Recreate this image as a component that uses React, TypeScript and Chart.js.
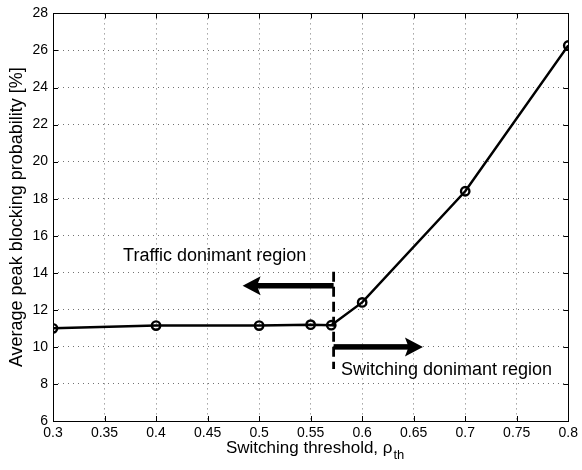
import React, { useEffect, useRef } from 'react';
import { Chart, registerables } from 'chart.js';

Chart.register(...registerables);

// ---- data ----
const thresholds = [0.3, 0.4, 0.5, 0.55, 0.57, 0.6, 0.7, 0.8];
const blockingProb = [11.0, 11.15, 11.15, 11.2, 11.17, 12.4, 18.4, 26.27];

const xTicks = [0.3, 0.35, 0.4, 0.45, 0.5, 0.55, 0.6, 0.65, 0.7, 0.75, 0.8];
const xTickLabels = ['0.3', '0.35', '0.4', '0.45', '0.5', '0.55', '0.6', '0.65', '0.7', '0.75', '0.8'];
const yTicks = [6, 8, 10, 12, 14, 16, 18, 20, 22, 24, 26, 28];
const yTickLabels = ['6', '8', '10', '12', '14', '16', '18', '20', '22', '24', '26', '28'];

// ---- annotations (data units) ----
const boundaryX = 0.5723;
const boundaryYRange = [8.8, 14.05];
const trafficArrow = { from: 0.5723, to: 0.484, y: 13.3 };
const switchingArrow = { from: 0.5723, to: 0.659, y: 10.0 };
const trafficLabel = { text: 'Traffic donimant region', x: 0.368, y: 14.65 };
const switchingLabel = { text: 'Switching donimant region', x: 0.5794, y: 8.5 };

const xTitle = 'Switching threshold, ρ';
const xTitleSub = 'th';
const yTitle = 'Average peak blocking probability [%]';

const FONT = '"Liberation Sans", Arial, Helvetica, sans-serif';

function drawArrow(ctx: CanvasRenderingContext2D, x0: number, x1: number, y: number) {
  const dir = Math.sign(x1 - x0);
  const headL = 18;
  const headH = 19;
  const shaftW = 5.5;
  ctx.fillStyle = '#000';
  ctx.fillRect(Math.min(x0, x1 - dir * headL * 0.7), y - shaftW / 2, Math.abs(x1 - dir * headL * 0.7 - x0), shaftW);
  ctx.beginPath();
  ctx.moveTo(x1, y);
  ctx.lineTo(x1 - dir * headL, y - headH / 2);
  ctx.lineTo(x1 - dir * headL * 0.8, y);
  ctx.lineTo(x1 - dir * headL, y + headH / 2);
  ctx.closePath();
  ctx.fill();
}

const overlayPlugin = {
  id: 'overlay',
  afterDraw(chart: any) {
    const { ctx, chartArea: a, scales } = chart;
    const xs = scales.x;
    const ys = scales.y;
    ctx.save();
    // box
    ctx.strokeStyle = '#000';
    ctx.lineWidth = 1;
    ctx.setLineDash([]);
    ctx.strokeRect(Math.round(a.left) + 0.5, Math.round(a.top) + 0.5, Math.round(a.right - a.left), Math.round(a.bottom - a.top));
    // inner ticks
    const tl = 5;
    ctx.beginPath();
    xTicks.forEach((v) => {
      const px = Math.round(xs.getPixelForValue(v)) + 0.5;
      ctx.moveTo(px, a.bottom);
      ctx.lineTo(px, a.bottom - tl);
      ctx.moveTo(px, a.top);
      ctx.lineTo(px, a.top + tl);
    });
    yTicks.forEach((v) => {
      const py = Math.round(ys.getPixelForValue(v)) + 0.5;
      ctx.moveTo(a.left, py);
      ctx.lineTo(a.left + tl, py);
      ctx.moveTo(a.right, py);
      ctx.lineTo(a.right - tl, py);
    });
    ctx.stroke();

    // dashed boundary
    const bx = xs.getPixelForValue(boundaryX);
    ctx.beginPath();
    ctx.setLineDash([10, 5]);
    ctx.lineWidth = 2.8;
    ctx.moveTo(bx, ys.getPixelForValue(boundaryYRange[1]));
    ctx.lineTo(bx, ys.getPixelForValue(boundaryYRange[0]));
    ctx.stroke();
    ctx.setLineDash([]);

    // arrows
    drawArrow(ctx, xs.getPixelForValue(trafficArrow.from), xs.getPixelForValue(trafficArrow.to), ys.getPixelForValue(trafficArrow.y));
    drawArrow(ctx, xs.getPixelForValue(switchingArrow.from), xs.getPixelForValue(switchingArrow.to), ys.getPixelForValue(switchingArrow.y));

    // labels
    ctx.fillStyle = '#000';
    ctx.font = `18px ${FONT}`;
    ctx.textAlign = 'left';
    ctx.textBaseline = 'alphabetic';
    ctx.fillText(trafficLabel.text, xs.getPixelForValue(trafficLabel.x), ys.getPixelForValue(trafficLabel.y));
    ctx.fillText(switchingLabel.text, xs.getPixelForValue(switchingLabel.x), ys.getPixelForValue(switchingLabel.y));

    // x title with subscript
    const mainFont = `17px ${FONT}`;
    const subFont = `13px ${FONT}`;
    ctx.font = mainFont;
    const wMain = ctx.measureText(xTitle).width;
    ctx.font = subFont;
    const wSub = ctx.measureText(xTitleSub).width;
    const cx = (a.left + a.right) / 2 + 4;
    const startX = cx - (wMain + wSub) / 2;
    const baseY = 453;
    ctx.font = mainFont;
    ctx.fillText(xTitle, startX, baseY);
    ctx.font = subFont;
    ctx.fillText(xTitleSub, startX + wMain + 1, baseY + 6);

    // y title
    ctx.save();
    ctx.translate(22, (a.top + a.bottom) / 2);
    ctx.rotate(-Math.PI / 2);
    ctx.font = `18px ${FONT}`;
    ctx.textAlign = 'center';
    ctx.fillText(yTitle, 0, 0);
    ctx.restore();

    ctx.restore();
  },
};

export default function App() {
  const ref = useRef<HTMLCanvasElement | null>(null);
  useEffect(() => {
    if (!ref.current) return;
    const chart = new Chart(ref.current, {
      type: 'line',
      data: {
        datasets: [
          {
            data: thresholds.map((x, i) => ({ x, y: blockingProb[i] })),
            borderColor: '#000',
            borderWidth: 2.5,
            pointRadius: 4.2,
            pointBorderWidth: 2.4,
            pointBorderColor: '#000',
            pointBackgroundColor: 'rgba(0,0,0,0)',
            tension: 0,
            fill: false,
          },
        ],
      },
      options: {
        animation: false,
        responsive: false,
        events: [],
        layout: { padding: { top: 11, right: 10, left: 0, bottom: 0 } },
        plugins: { legend: { display: false }, tooltip: { enabled: false }, title: { display: false } },
        scales: {
          x: {
            type: 'linear',
            min: 0.3,
            max: 0.8,
            afterBuildTicks: (s: any) => {
              s.ticks = xTicks.map((v) => ({ value: v }));
            },
            afterFit: (s: any) => {
              s.height = 49;
            },
            ticks: {
              autoSkip: false,
              maxRotation: 0,
              padding: 4,
              color: '#000',
              font: { family: FONT, size: 14 },
              callback: (_v: any, i: number) => xTickLabels[i],
            },
            grid: { color: 'rgba(0,0,0,0.55)', lineWidth: 1, drawTicks: false },
            border: { display: false, dash: [1, 4] },
          },
          y: {
            type: 'linear',
            min: 6,
            max: 28,
            afterBuildTicks: (s: any) => {
              s.ticks = yTicks.map((v) => ({ value: v }));
            },
            afterFit: (s: any) => {
              s.width = 53;
            },
            ticks: {
              autoSkip: false,
              padding: 5,
              color: '#000',
              font: { family: FONT, size: 14 },
              callback: (_v: any, i: number) => yTickLabels[i],
            },
            grid: { color: 'rgba(0,0,0,0.55)', lineWidth: 1, drawTicks: false },
            border: { display: false, dash: [1, 4] },
          },
        },
      },
      plugins: [overlayPlugin],
    } as any);
    return () => chart.destroy();
  }, []);
  return (
    <div style={{ position: 'fixed', left: 0, top: 0, width: 582, height: 470, background: '#fff' }}>
      <canvas ref={ref} width={582} height={470} style={{ display: 'block' }} />
    </div>
  );
}
